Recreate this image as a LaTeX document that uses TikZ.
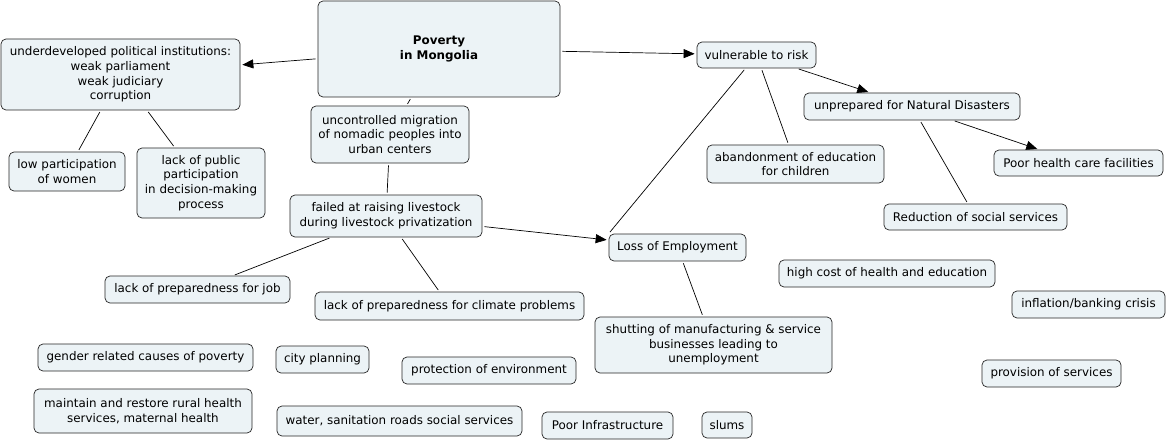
\documentclass[tikz,border=0pt]{standalone}
\usepackage{fontspec}
\setmainfont{DejaVu Sans}
\usetikzlibrary{arrows.meta}
\definecolor{boxfill}{RGB}{236,243,246}
\tikzset{
  cbox/.style={draw=black!85, fill=boxfill, rounded corners=5pt, align=center,
    inner sep=1pt, line width=0.7pt, font=\fontsize{11.9}{14.6}\selectfont},
  conn/.style={draw=black, line width=0.7pt, shorten <=2pt, shorten >=2pt},
  arr/.style={conn, -{Triangle[length=11pt,width=9pt]}}
}
\newcommand{\cb}[6]{\node[cbox, minimum width=#4pt, minimum height=#5pt] (#1) at (#2,#3) {#6};}
\begin{document}
\begin{tikzpicture}[x=1pt,y=-1pt]
\useasboundingbox[fill=white] (0,0) rectangle (1167,441);
\cb{pov}{439}{49}{242}{96}{\textbf{Poverty}\\\textbf{in Mongolia}}
\cb{und}{120.5}{74.5}{239}{71}{underdeveloped political institutions:\\weak parliament\\weak judiciary\\corruption}
\cb{low}{67}{171.5}{116}{39}{low participation\\of women}
\cb{lpub}{201}{183}{128}{70}{lack of public\\participation\\in decision-making\\process}
\cb{mig}{390}{134.5}{158}{57}{uncontrolled migration\\of nomadic peoples into\\urban centers}
\cb{fail}{386}{216}{192}{42}{failed at raising livestock\\during livestock privatization}
\cb{vul}{756.5}{55}{119}{26}{vulnerable to risk}
\cb{unp}{912}{106.5}{216}{27}{unprepared for Natural Disasters}
\cb{aban}{795.5}{164}{177}{38}{abandonment of education\\for children}
\cb{phc}{1078.5}{163}{169}{26}{Poor health care facilities}
\cb{red}{975.5}{217}{183}{26}{Reduction of social services}
\cb{loss}{677.5}{247.5}{137}{27}{Loss of Employment}
\cb{high}{887}{273.5}{216}{27}{high cost of health and education}
\cb{inf}{1088.5}{304.5}{153}{27}{inflation/banking crisis}
\cb{job}{197.5}{289.5}{185}{27}{lack of preparedness for job}
\cb{clim}{449.5}{306}{269}{28}{lack of preparedness for climate problems}
\cb{shut}{713.5}{345}{237}{56}{shutting of manufacturing \& service\\businesses leading to\\unemployment}
\cb{gend}{145.5}{357.5}{215}{27}{gender related causes of poverty}
\cb{city}{322.5}{359.5}{93}{27}{city planning}
\cb{prot}{489}{370.5}{174}{27}{protection of environment}
\cb{prov}{1051.5}{373.5}{139}{27}{provision of services}
\cb{maint}{143}{411}{218}{44}{maintain and restore rural health\\services, maternal health}
\cb{water}{399.5}{421}{245}{30}{water, sanitation roads social services}
\cb{pinf}{607.5}{425.5}{131}{27}{Poor Infrastructure}
\cb{slums}{727}{425}{50}{26}{slums}
% connectors
\draw[arr] (pov) -- (und);
\draw[arr] (pov) -- (vul);
\draw[conn] (pov) -- (mig);
\draw[conn] (mig) -- (fail);
\draw[conn] (und) -- (low);
\draw[conn] (und) -- (lpub);
\draw[arr] (fail) -- (loss);
\draw[conn] (fail) -- (job);
\draw[conn] (fail) -- (clim);
\draw[conn] (vul) -- (loss.north west);
\draw[conn] (vul) -- (aban);
\draw[arr] (vul) -- (unp);
\draw[conn] (unp) -- (red);
\draw[arr] (unp) -- (phc);
\draw[conn] (loss) -- (shut);
\end{tikzpicture}
\end{document}
